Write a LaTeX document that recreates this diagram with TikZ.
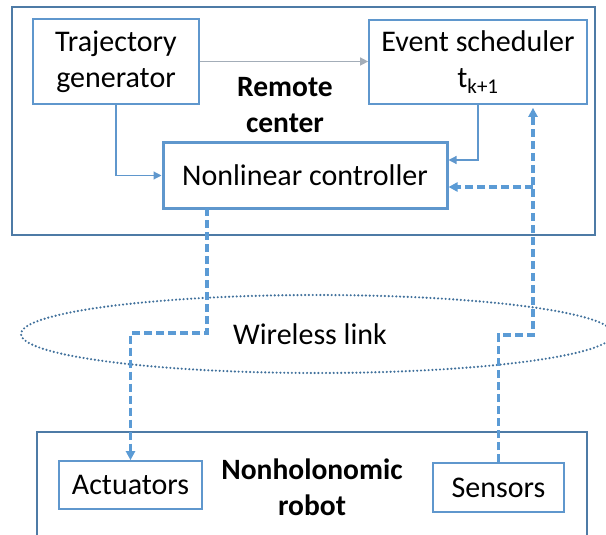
\documentclass[tikz,border=0pt]{standalone}
\usepackage{fontspec}
\setmainfont{Carlito}
\usetikzlibrary{arrows.meta,calc,shapes.geometric}
\definecolor{frameblue}{HTML}{4E7BA6}
\definecolor{boxblue}{HTML}{5F97CD}
\definecolor{linkblue}{HTML}{5B9BD5}
\definecolor{thingray}{HTML}{A3ADB8}
\definecolor{thinblue}{HTML}{9DC3E6}
\definecolor{dotblue}{HTML}{41719C}
\tikzset{
  group/.style={draw=frameblue, line width=1.8pt},
  block/.style={draw=boxblue, line width=1.7pt, fill=white, inner sep=0pt, align=center, font=\fontsize{30}{36}\selectfont},
  thick block/.style={block, line width=3pt},
  title/.style={font=\fontsize{29.5}{36}\selectfont\bfseries, align=center},
  thin link/.style={line width=1.4pt, -{Triangle[length=8pt,width=8pt]}},
  radio link/.style={draw=linkblue, line width=3.2pt, dash pattern=on 8pt off 4pt, -{Triangle[length=9pt,width=9pt]}},
}
\begin{document}
\begin{tikzpicture}[x=1pt,y=-1pt]
\useasboundingbox (0,0) rectangle (606,535);
\clip (0,0) rectangle (606,535);

% enclosing frames
\draw[group] (12,7) rectangle (595,235);
\draw[group] (37,432) rectangle (587,560);

% wireless link
\node[draw=dotblue, line width=2.4pt, line cap=round, dash pattern=on 0pt off 3.8pt,
      ellipse, minimum width=592pt, minimum height=78pt, inner sep=0pt] (air) at (317,334) {};
\node[font=\fontsize{30}{36}\selectfont] (airlabel) at (310,334) {Wireless link};

% blocks
\node[block, minimum width=166pt, minimum height=85pt] (traj) at (116,61.5) {Trajectory\\generator};
\node[block, minimum width=218pt, minimum height=84pt] (event) at (478,62) {Event scheduler\\t\textsubscript{k+1}};
\node[thick block, minimum width=284pt, minimum height=65pt] (ctrl) at (305,175.5) {Nonlinear controller};
\node[block, minimum width=143pt, minimum height=48pt] (act) at (130.5,485) {Actuators};
\node[block, minimum width=131pt, minimum height=49pt] (sens) at (498.5,487.5) {Sensors};

% group titles
\node[title] (remote) at (285,105) {Remote\\center};
\node[title] (robot) at (312,487.5) {Nonholonomic\\robot};

% local wiring in the remote center
\draw[thin link, draw=thingray, color=thingray] (traj.east) -- (traj.east -| event.west);
\draw[thin link, draw=boxblue, color=boxblue, line width=1.2pt] (traj.south) |- (ctrl.west);
\draw[thin link, draw=thinblue, color=boxblue, line width=1.2pt] (event.south) |- ([yshift=15.5pt]ctrl.east);

% links through the radio channel
\coordinate (down1) at (207,208);
\coordinate (down2) at (207,333);
\coordinate (up1) at (498.5,335);
\coordinate (up2) at (533,335);
\coordinate (branch) at (533,187);
\draw[radio link, color=linkblue] (down1) -- (down2) -| (act.north);
\draw[radio link, color=linkblue, shorten >=3pt] (sens.north) -- (up1) -- (up2) -- (up2 |- event.south);
\draw[radio link, color=linkblue] (branch) -- (branch -| ctrl.east);
\end{tikzpicture}
\end{document}
